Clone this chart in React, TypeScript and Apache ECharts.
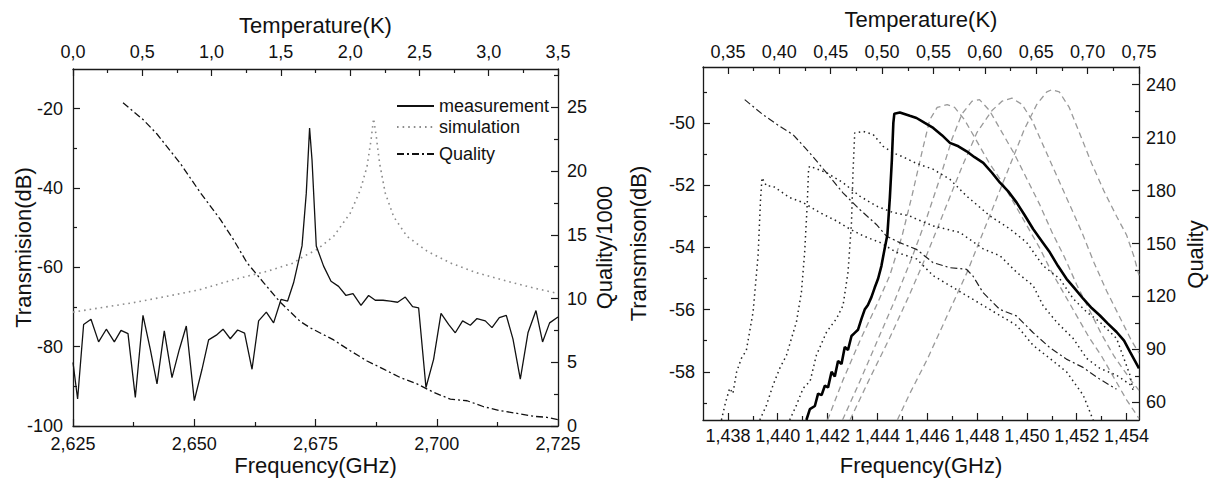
import React, { useEffect, useRef } from "react";
import * as echarts from "echarts";

const FONT = "'Liberation Sans', Arial, Helvetica, sans-serif";

// ---------------- Left panel data ----------------
// measurement: [frequency GHz, transmission dB]
const measurement: [number, number][] = [
  [2.625, -84], [2.62595, -93.2], [2.62719, -74.4], [2.62871, -73.1], [2.63028, -78.8],
  [2.63187, -75.6], [2.63352, -78.8], [2.6349, -75.9], [2.63634, -76.7], [2.63785, -92.8],
  [2.63943, -72.1], [2.64094, -80.7], [2.64232, -89.4], [2.64382, -76.0], [2.64541, -87.8],
  [2.64692, -80.7], [2.64836, -74.8], [2.65001, -93.6], [2.6516, -85.7], [2.65296, -78.3],
  [2.65455, -77.1], [2.65593, -75.6], [2.65743, -78.0], [2.65894, -75.8], [2.66038, -76.6],
  [2.66191, -85.7], [2.66327, -73.5], [2.66486, -71.3], [2.66636, -74.0], [2.66789, -68.1],
  [2.66925, -68.5], [2.67048, -63.9], [2.67222, -54.6], [2.6731, -41.3], [2.67378, -24.9],
  [2.67428, -32.9], [2.67516, -54.6], [2.67667, -59.7], [2.6782, -63.5], [2.67976, -64.8],
  [2.68129, -67.1], [2.68273, -66.6], [2.68438, -69.6], [2.68595, -67.1], [2.68733, -68.3],
  [2.68892, -68.3], [2.69042, -68.5], [2.69193, -68.8], [2.69351, -67.5], [2.69502, -69.9],
  [2.69626, -70.2], [2.69778, -90.3], [2.69935, -83.2], [2.70088, -71.6], [2.70244, -74.4],
  [2.70382, -76.5], [2.70533, -73.5], [2.70692, -74.6], [2.7083, -72.9], [2.71001, -73.5],
  [2.71139, -75.2], [2.7129, -72.7], [2.71434, -72.1], [2.71572, -78.1], [2.71723, -88.2],
  [2.71881, -76.5], [2.72046, -70.9], [2.72182, -78.8], [2.72327, -74.0], [2.725, -72.5],
];

// simulation: [frequency GHz, transmission dB]
const simulation: [number, number][] = [
  [2.625, -71.3], [2.63063, -70.2], [2.6375, -68.9], [2.64438, -67.3], [2.65125, -65.6],
  [2.65811, -63.1], [2.665, -61.0], [2.67048, -58.9], [2.67187, -57.7], [2.67531, -55.5],
  [2.67873, -52.2], [2.68218, -46.3], [2.68424, -40.5], [2.68562, -34.6], [2.68644, -28.0],
  [2.68698, -22.5], [2.68754, -27.1], [2.68822, -33.8], [2.68939, -41.3], [2.6911, -47.2],
  [2.69387, -52.2], [2.69799, -55.9], [2.7028, -58.9], [2.7083, -61.4], [2.71449, -63.5],
  [2.71997, -65.2], [2.725, -66.6],
];

// quality (left): [temperature K, quality / 1000]
const qualityLeft: [number, number][] = [
  [0.361, 25.35], [0.509, 24.0], [0.606, 22.9], [0.774, 20.6], [0.919, 18.3],
  [1.063, 16.2], [1.159, 14.6], [1.256, 12.8], [1.375, 11.25], [1.496, 9.7],
  [1.64, 8.2], [1.712, 7.7], [1.881, 6.75], [2.001, 5.9], [2.122, 5.1],
  [2.242, 4.46], [2.362, 3.8], [2.483, 3.3], [2.603, 2.64], [2.723, 2.1],
  [2.844, 1.98], [2.964, 1.51], [3.084, 1.2], [3.205, 0.99], [3.325, 0.76],
  [3.421, 0.68], [3.5, 0.5],
];

// ---------------- Right panel data ----------------
const mainTrace: [number, number][] = [
  [1.44115, -59.55], [1.44129, -59.2], [1.44149, -59.1], [1.44162, -58.7], [1.44176, -58.75],
  [1.44189, -58.45], [1.44202, -58.5], [1.44216, -58.0], [1.44229, -58.15], [1.44242, -57.65],
  [1.44256, -57.75], [1.44269, -57.2], [1.44282, -57.3], [1.44296, -56.85], [1.44309, -56.75],
  [1.44322, -56.65], [1.44336, -56.3], [1.44349, -56.0], [1.44362, -55.85], [1.44376, -55.6],
  [1.44389, -55.3], [1.44403, -55.0], [1.44416, -54.6], [1.4443, -54.0], [1.4444, -53.6],
  [1.4445, -52.4], [1.44458, -51.2], [1.44464, -50.0], [1.44468, -49.7], [1.4449, -49.66],
  [1.4453, -49.77], [1.44557, -49.84], [1.4459, -50.0], [1.44624, -50.16], [1.4466, -50.4],
  [1.44691, -50.64], [1.44725, -50.75], [1.44758, -50.91], [1.4479, -51.1], [1.44825, -51.28],
  [1.4486, -51.6], [1.44892, -51.92], [1.44925, -52.2], [1.44959, -52.56], [1.4499, -52.95],
  [1.45025, -53.41], [1.4506, -53.8], [1.45092, -54.16], [1.45125, -54.6], [1.45159, -55.01],
  [1.4519, -55.3], [1.45226, -55.65], [1.4526, -55.95], [1.45293, -56.19], [1.45325, -56.45],
  [1.4536, -56.72], [1.4539, -57.0], [1.45414, -57.36], [1.4545, -57.89],
];

const dotted1: [number, number][] = [
  [1.43774, -59.55], [1.4379, -59.0], [1.43807, -58.53], [1.4382, -58.7], [1.43835, -58.0],
  [1.43854, -57.57], [1.43874, -57.31], [1.43901, -56.08], [1.43921, -54.27], [1.43931, -52.45],
  [1.43937, -51.76], [1.43955, -52.03], [1.43981, -52.03], [1.44048, -52.4], [1.44102, -52.56],
  [1.44169, -52.88], [1.44236, -53.15], [1.44289, -53.41], [1.44343, -53.63], [1.4441, -53.84],
  [1.44477, -54.16], [1.44557, -54.37], [1.44624, -54.91], [1.44691, -55.23], [1.44758, -55.55],
  [1.44825, -55.87], [1.44892, -56.19], [1.44959, -56.51], [1.45025, -57.15], [1.45092, -57.57],
  [1.45159, -58.0], [1.45226, -58.75], [1.45266, -59.55],
];

const dotted2: [number, number][] = [
  [1.43928, -59.55], [1.43955, -59.07], [1.43981, -58.43], [1.44008, -57.89], [1.44035, -57.47],
  [1.44055, -56.93], [1.44075, -56.4], [1.44095, -55.44], [1.44108, -54.16], [1.44118, -52.67],
  [1.44124, -51.44], [1.44129, -51.39], [1.44196, -51.6], [1.44262, -51.92], [1.44329, -52.35],
  [1.44396, -52.67], [1.44463, -52.88], [1.4453, -52.99], [1.44557, -53.09], [1.44624, -53.31],
  [1.44731, -53.52], [1.44825, -54.05], [1.44892, -54.27], [1.44959, -54.8], [1.45025, -55.23],
  [1.45065, -55.87], [1.45119, -56.4], [1.45186, -56.93], [1.4524, -57.57], [1.45293, -57.89],
  [1.4536, -58.11], [1.4543, -58.5],
];

const dotted3: [number, number][] = [
  [1.44048, -59.55], [1.44075, -59.07], [1.44102, -58.53], [1.4413, -58.3], [1.44155, -57.47],
  [1.44196, -56.72], [1.44236, -56.29], [1.44262, -55.87], [1.44282, -54.8], [1.44296, -53.2],
  [1.44302, -51.6], [1.44309, -50.32], [1.44343, -50.27], [1.44383, -50.37], [1.44423, -50.75],
  [1.44463, -50.96], [1.44503, -51.09], [1.44557, -51.3], [1.44624, -51.49], [1.44691, -51.81],
  [1.44758, -52.35], [1.44852, -52.99], [1.44932, -53.41], [1.44999, -53.84], [1.45065, -54.59],
  [1.45132, -55.01], [1.45186, -55.65], [1.4524, -56.08], [1.45293, -56.4], [1.4536, -56.93],
  [1.45414, -58.11], [1.45427, -58.64],
];

const gray1: [number, number][] = [
  [1.442, -59.55], [1.4426, -58.3], [1.4433, -57.0], [1.444, -55.8], [1.4445, -54.9],
  [1.445, -53.6], [1.4454, -52.3], [1.4458, -50.9], [1.4461, -49.9], [1.4464, -49.5],
  [1.4468, -49.41], [1.4471, -49.5], [1.4475, -49.9], [1.448, -50.6], [1.4485, -51.3],
  [1.449, -51.9], [1.4495, -52.6], [1.45, -53.3], [1.4505, -54.0], [1.451, -54.8],
  [1.4515, -55.5], [1.452, -56.2], [1.4525, -56.9], [1.453, -57.5], [1.4535, -58.2],
  [1.454, -58.9], [1.4545, -59.5],
];

const gray2: [number, number][] = [
  [1.4426, -59.55], [1.4433, -58.3], [1.444, -57.0], [1.4447, -55.7], [1.4454, -54.3],
  [1.446, -53.0], [1.4465, -51.8], [1.447, -50.5], [1.4474, -49.7], [1.4478, -49.3],
  [1.4481, -49.25], [1.4485, -49.6], [1.449, -50.3], [1.4495, -51.0], [1.45, -51.8],
  [1.4505, -52.6], [1.451, -53.5], [1.4515, -54.3], [1.452, -55.2], [1.4525, -56.0],
  [1.453, -56.8], [1.4535, -57.5], [1.4542, -58.3], [1.4545, -58.6],
];

const gray3: [number, number][] = [
  [1.4429, -59.55], [1.4437, -58.2], [1.4445, -56.9], [1.4453, -55.5], [1.446, -54.2],
  [1.4467, -52.8], [1.4474, -51.4], [1.448, -50.3], [1.4486, -49.6], [1.449, -49.3],
  [1.4494, -49.2], [1.4498, -49.4], [1.4502, -49.9], [1.4507, -50.8], [1.4512, -51.7],
  [1.4517, -52.6], [1.4522, -53.5], [1.4527, -54.5], [1.4532, -55.4], [1.4537, -56.2],
  [1.4542, -57.0], [1.4545, -57.4],
];

const gray4: [number, number][] = [
  [1.4448, -59.55], [1.4453, -58.7], [1.446, -57.6], [1.4468, -56.2], [1.4476, -54.8],
  [1.4484, -53.2], [1.4492, -51.6], [1.4499, -50.2], [1.4504, -49.4], [1.4508, -49.0],
  [1.451, -48.93], [1.4513, -49.0], [1.4517, -49.5], [1.4521, -50.3], [1.4526, -51.3],
  [1.4531, -52.2], [1.4536, -53.0], [1.454, -53.6], [1.4543, -54.3], [1.4545, -54.9],
];

// quality (right): [temperature K, quality]
const qualityRight: [number, number][] = [
  [0.3663, 231.5], [0.3841, 223], [0.4003, 216.4], [0.4133, 211.7], [0.4295, 201.4],
  [0.4458, 190.1], [0.4619, 178.7], [0.4782, 169.3], [0.4944, 160.8], [0.5042, 154.2],
  [0.5171, 150.5], [0.5334, 146.7], [0.5495, 139.2], [0.5658, 136.3], [0.582, 135.4],
  [0.5884, 131.6], [0.5982, 122.2], [0.6144, 112.7], [0.6307, 109.0], [0.6468, 99.6],
  [0.6631, 91.1], [0.6793, 84.5], [0.6955, 79.8], [0.7117, 73.2], [0.728, 67.5],
];

// ---------------- Tick values ----------------
const lFreqLabels = [2.625, 2.65, 2.675, 2.7, 2.725];
const lFreqMinor = [2.6375, 2.6625, 2.6875, 2.7125];
const lTempLabels = [0, 0.5, 1, 1.5, 2, 2.5, 3, 3.5];
const lTempMinor = [0.25, 0.75, 1.25, 1.75, 2.25, 2.75, 3.25];
const lDbLabels = [-100, -80, -60, -40, -20];
const lDbMinor = [-90, -70, -50, -30];
const lQLabels = [0, 5, 10, 15, 20, 25];
const lQMinor = [2.5, 7.5, 12.5, 17.5, 22.5, 27.5];

const rFreqLabels = [1.438, 1.44, 1.442, 1.444, 1.446, 1.448, 1.45, 1.452, 1.454];
const rFreqMinor = [1.439, 1.441, 1.443, 1.445, 1.447, 1.449, 1.451, 1.453];
const rTempLabels = [0.35, 0.4, 0.45, 0.5, 0.55, 0.6, 0.65, 0.7, 0.75];
const rTempMinor = [0.375, 0.425, 0.475, 0.525, 0.575, 0.625, 0.675, 0.725];
const rDbLabels = [-58, -56, -54, -52, -50];
const rDbMinor = [-59, -57, -55, -53, -51, -49];
const rQLabels = [60, 90, 120, 150, 180, 210, 240];
const rQMinor = [75, 105, 135, 165, 195, 225];

const AXC = "#1a1a1a";
const fmt = (d: number) => (v: number) => Number(v).toFixed(d).replace(".", ",");

function majorAxis(o: {
  grid: number; position: string; min: number; max: number; labels: number[];
  dec: number; name?: string; nameGap?: number; isY?: boolean; margin: number; namePad?: number[];
}) {
  return {
    type: "value",
    gridIndex: o.grid,
    position: o.position,
    min: o.min,
    max: o.max,
    name: o.name || "",
    nameLocation: "middle",
    nameGap: o.nameGap || 0,
    nameMoveOverlap: false,
    nameRotate: o.isY ? 90 : 0,
    nameTextStyle: { fontFamily: FONT, fontSize: 22, color: "#111", padding: o.namePad || 0 },
    axisLine: { show: true, onZero: false, lineStyle: { color: AXC, width: 1.3 } },
    axisTick: { show: true, inside: true, length: 7, customValues: o.labels, lineStyle: { color: AXC, width: 1.2 } },
    axisLabel: {
      show: true, customValues: o.labels, formatter: fmt(o.dec), margin: o.margin,
      fontFamily: FONT, fontSize: 18, color: "#111",
    },
    splitLine: { show: false },
  };
}

function minorAxis(o: { grid: number; position: string; min: number; max: number; ticks: number[] }) {
  return {
    type: "value",
    gridIndex: o.grid,
    position: o.position,
    min: o.min,
    max: o.max,
    axisLine: { show: false, onZero: false },
    axisTick: { show: true, inside: true, length: 4, customValues: o.ticks, lineStyle: { color: AXC, width: 1.2 } },
    axisLabel: { show: false },
    splitLine: { show: false },
  };
}

function lineSeries(name: string, data: [number, number][], xi: number, yi: number, lineStyle: any, z = 2) {
  return {
    type: "line", name, data, xAxisIndex: xi, yAxisIndex: yi,
    symbol: "none", showSymbol: false, smooth: false, silent: true, clip: true, z,
    lineStyle, itemStyle: { color: lineStyle.color }, emphasis: { disabled: true },
  };
}

const legendBase = {
  left: 396, padding: 0, itemWidth: 37, itemHeight: 14, selectedMode: false,
  itemStyle: { opacity: 0, borderWidth: 0 },
  textStyle: { fontFamily: FONT, fontSize: 18, color: "#111" },
};

export default function App() {
  const ref = useRef<HTMLDivElement>(null);
  useEffect(() => {
    const chart = echarts.init(ref.current!, null, { renderer: "svg" });
    const L = { min: 2.625, max: 2.725 };
    const option: any = {
      animation: false,
      backgroundColor: "#ffffff",
      grid: [
        { left: 73, top: 69, width: 485, height: 358 },
        { left: 703, top: 67, width: 436, height: 355 },
      ],
      xAxis: [
        majorAxis({ grid: 0, position: "bottom", min: L.min, max: L.max, labels: lFreqLabels, dec: 3, name: "Frequency(GHz)", nameGap: 28, margin: 9 }),
        majorAxis({ grid: 0, position: "top", min: 0, max: 3.5, labels: lTempLabels, dec: 1, name: "Temperature(K)", nameGap: 33, margin: 8 }),
        minorAxis({ grid: 0, position: "bottom", min: L.min, max: L.max, ticks: lFreqMinor }),
        minorAxis({ grid: 0, position: "top", min: 0, max: 3.5, ticks: lTempMinor }),
        majorAxis({ grid: 1, position: "bottom", min: 1.437, max: 1.4545, labels: rFreqLabels, dec: 3, name: "Frequency(GHz)", nameGap: 34, margin: 7 }),
        majorAxis({ grid: 1, position: "top", min: 0.3257, max: 0.75, labels: rTempLabels, dec: 2, name: "Temperature(K)", nameGap: 37, margin: 6 }),
        minorAxis({ grid: 1, position: "bottom", min: 1.437, max: 1.4545, ticks: rFreqMinor }),
        minorAxis({ grid: 1, position: "top", min: 0.3257, max: 0.75, ticks: rTempMinor }),
      ],
      yAxis: [
        majorAxis({ grid: 0, position: "left", min: -100, max: -10, labels: lDbLabels, dec: 0, name: "Transmision(dB)", nameGap: 39, isY: true, margin: 10 }),
        majorAxis({ grid: 0, position: "right", min: 0, max: 28, labels: lQLabels, dec: 0, name: "Quality/1000", nameGap: 35, isY: true, margin: 9 }),
        minorAxis({ grid: 0, position: "left", min: -100, max: -10, ticks: lDbMinor }),
        minorAxis({ grid: 0, position: "right", min: 0, max: 28, ticks: lQMinor }),
        majorAxis({ grid: 1, position: "left", min: -59.55, max: -48.2, labels: rDbLabels, dec: 0, name: "Transmison(dB)", nameGap: 54, isY: true, margin: 8 }),
        majorAxis({ grid: 1, position: "right", min: 50, max: 250, labels: rQLabels, dec: 0, name: "Quality", nameGap: 45, isY: true, margin: 7, namePad: [0, 22, 0, 0] }),
        minorAxis({ grid: 1, position: "left", min: -59.55, max: -48.2, ticks: rDbMinor }),
        minorAxis({ grid: 1, position: "right", min: 50, max: 250, ticks: rQMinor }),
      ],
      legend: [
        { ...legendBase, top: 97, data: ["measurement"] },
        { ...legendBase, top: 118, data: ["simulation"] },
        { ...legendBase, top: 145, data: ["Quality"] },
      ],
      series: [
        lineSeries("simulation", simulation, 0, 0, { color: "#8c8c8c", width: 1.6, type: [1.6, 4] }),
        lineSeries("measurement", measurement, 0, 0, { color: "#111", width: 1.3 }, 3),
        lineSeries("Quality", qualityLeft, 1, 1, { color: "#111", width: 1.3, type: [7, 3, 2, 3] }, 3),

        lineSeries("r-gray1", gray1, 4, 4, { color: "#9a9a9a", width: 1.3, type: [6, 4] }),
        lineSeries("r-gray2", gray2, 4, 4, { color: "#9a9a9a", width: 1.3, type: [6, 4] }),
        lineSeries("r-gray3", gray3, 4, 4, { color: "#9a9a9a", width: 1.3, type: [6, 4] }),
        lineSeries("r-gray4", gray4, 4, 4, { color: "#9a9a9a", width: 1.3, type: [6, 4] }),
        lineSeries("r-dot1", dotted1, 4, 4, { color: "#222", width: 1.5, type: [1.5, 3.5] }, 3),
        lineSeries("r-dot2", dotted2, 4, 4, { color: "#222", width: 1.5, type: [1.5, 3.5] }, 3),
        lineSeries("r-dot3", dotted3, 4, 4, { color: "#222", width: 1.5, type: [1.5, 3.5] }, 3),
        lineSeries("r-quality", qualityRight, 5, 5, { color: "#222", width: 1.2, type: [7, 3, 2, 3] }, 3),
        lineSeries("r-main", mainTrace, 4, 4, { color: "#000", width: 2.6 }, 4),
      ],
    };
    chart.setOption(option);
    return () => chart.dispose();
  }, []);
  return (
    <div
      ref={ref}
      style={{ position: "absolute", left: 0, top: 0, width: 1210, height: 481, background: "#fff" }}
    />
  );
}
